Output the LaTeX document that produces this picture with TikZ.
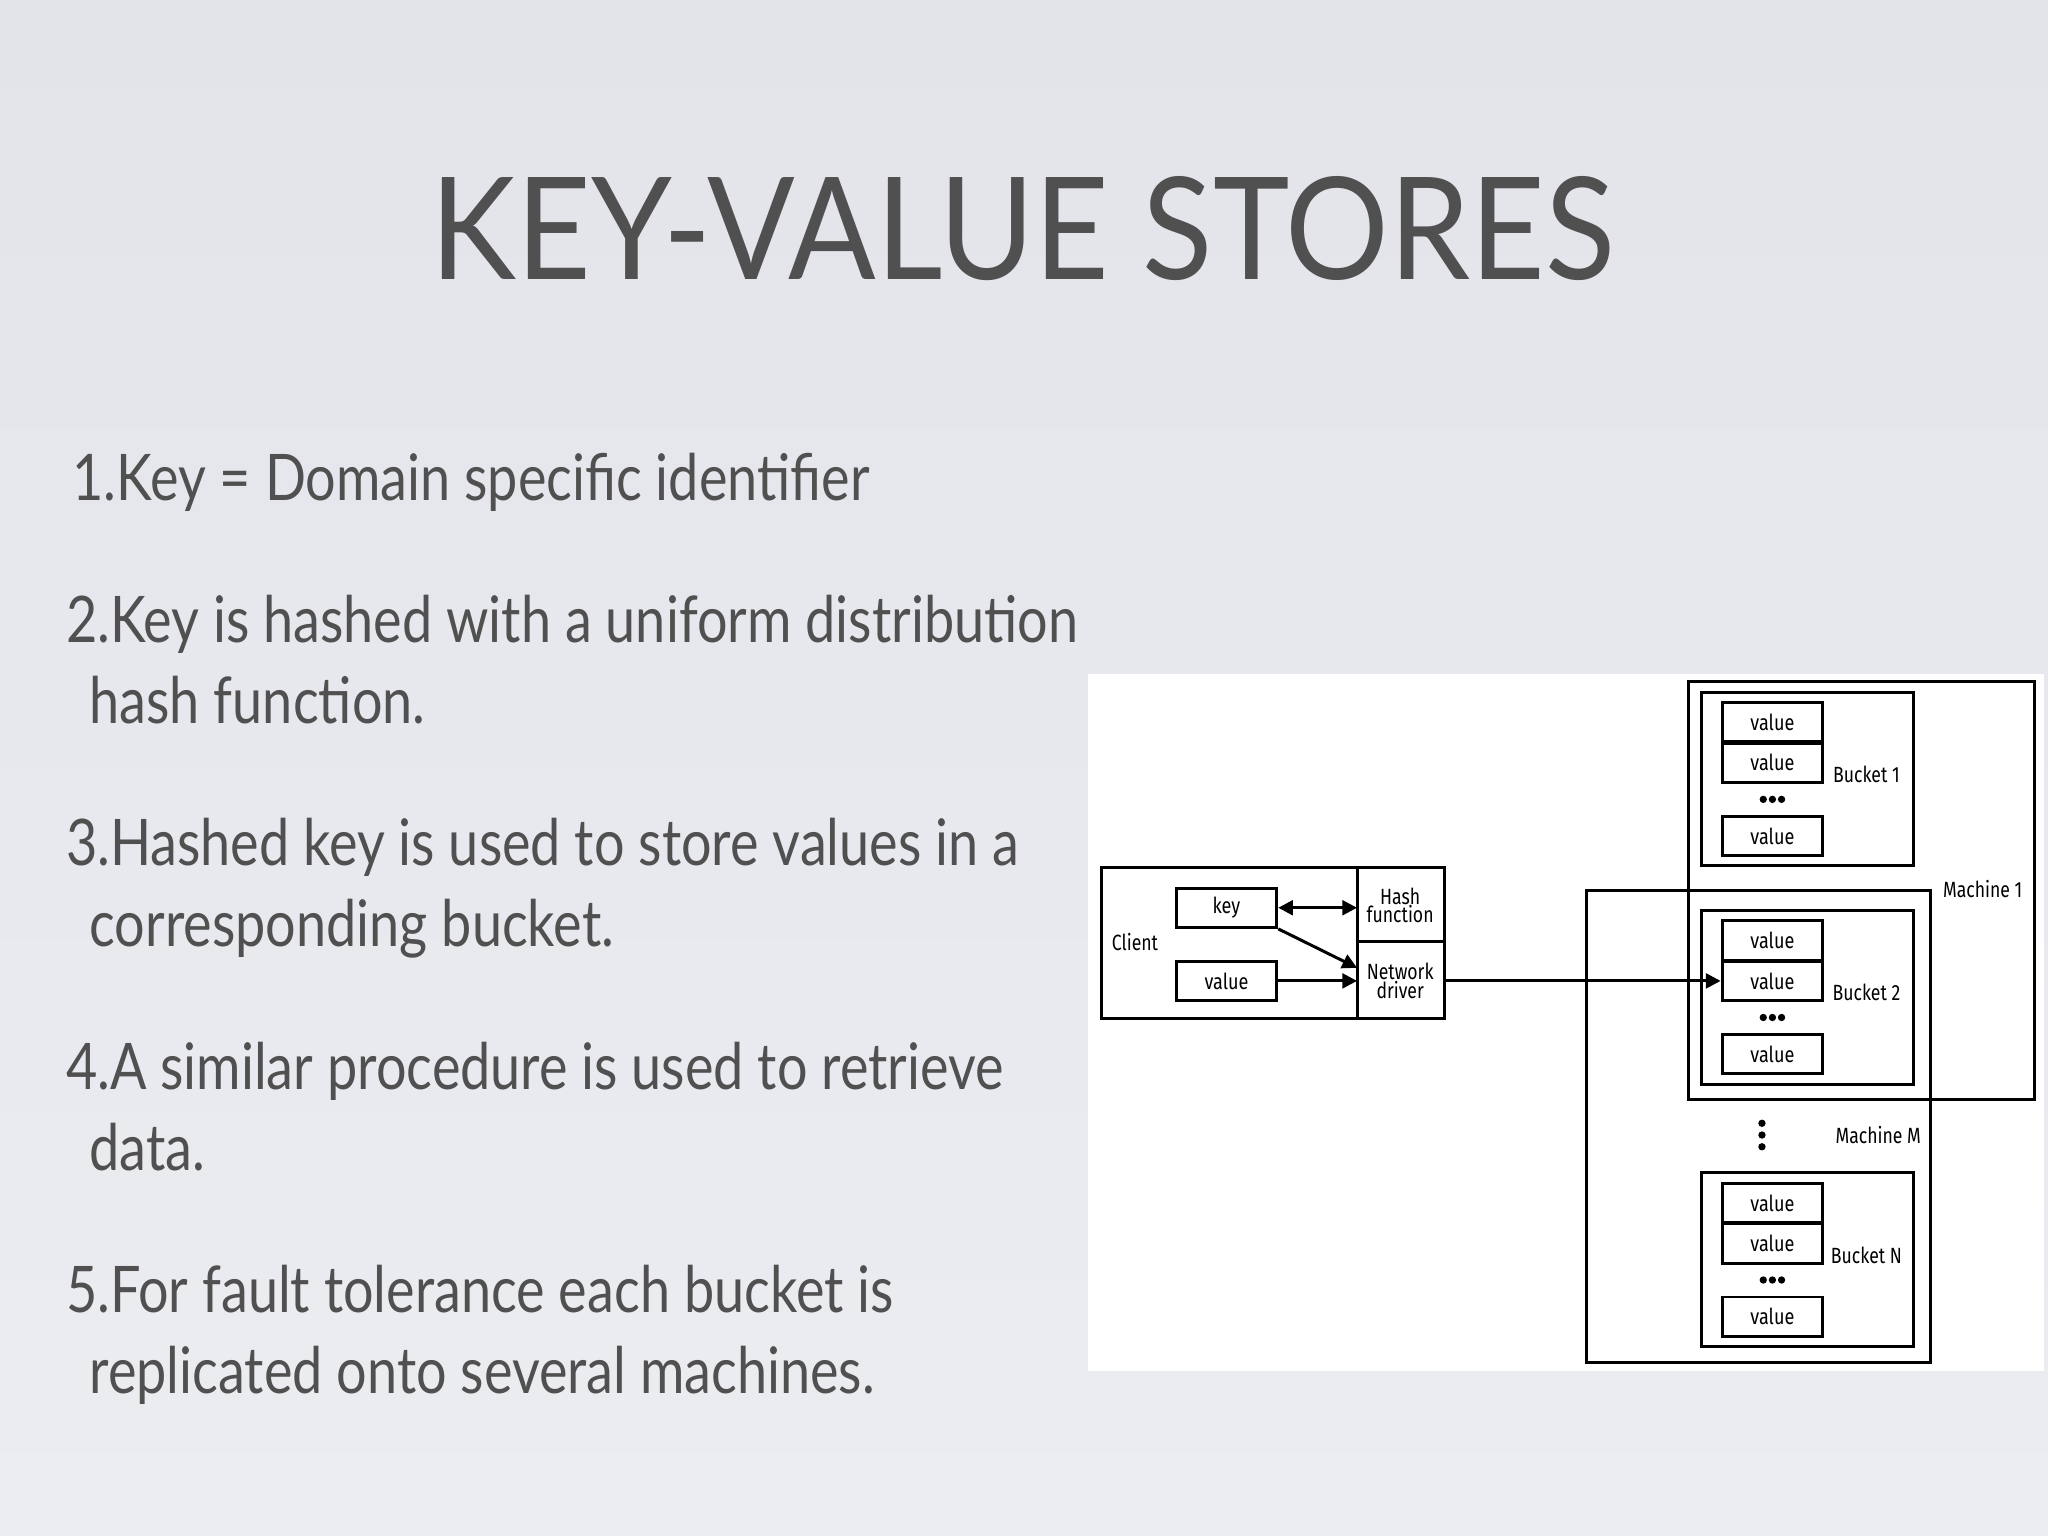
\documentclass[tikz,border=0pt]{standalone}
\usepackage{fontspec}
\setmainfont{Lato}
\newfontfamily\dgfont{Fira Sans}
\usetikzlibrary{arrows.meta}
\definecolor{txt}{HTML}{505050}
\tikzset{
  bx/.style={draw,line width=0.65pt},
  vbox/.style={draw,line width=0.65pt,minimum width=0.77cm,minimum height=0.3cm,inner sep=0pt,font=\dgfont\fontsize{4.8}{5}\selectfont},
  vtxt/.style={inner sep=0pt,xscale=0.82,font=\dgfont\fontsize{4.8}{5}\selectfont},
  lab/.style={font=\dgfont\fontsize{4.8}{5}\selectfont,align=center,inner sep=0pt,xscale=0.8},
  body/.style={anchor=base west,text=txt,font=\fontsize{14}{16}\selectfont,inner sep=0pt,xscale=0.84},
  arr/.style={line width=0.65pt,-{Triangle[length=3.2pt,width=3.2pt]}},
  dot/.style={circle,fill,inner sep=0pt,minimum size=1.6pt}
}
\begin{document}
\begin{tikzpicture}[x=0.1mm,y=-0.1mm]
\shade[top color={rgb,255:red,226;green,228;blue,234},bottom color={rgb,255:red,236;green,237;blue,241}] (0,0) rectangle (1568,1176);
\useasboundingbox (0,0) rectangle (1568,1176);
\node[anchor=base,text=txt,font=\fontsize{31}{34}\selectfont,inner sep=0pt,xscale=0.91] (title) at (783,214) {KEY-VALUE STORES};
\node[body] (l1) at (55,383) {1.Key = Domain specific identifier};
\node[body] (l2) at (50,492) {2.Key is hashed with a uniform distribution};
\node[body] (l2b) at (68,554) {hash function.};
\node[body] (l3) at (50,663) {3.Hashed key is used to store values in a};
\node[body] (l3b) at (68,725) {corresponding bucket.};
\node[body] (l4) at (50,834) {4.A similar procedure is used to retrieve};
\node[body] (l4b) at (68,896) {data.};
\node[body] (l5) at (50,1005) {5.For fault tolerance each bucket is};
\node[body] (l5b) at (68,1067) {replicated onto several machines.};
% diagram panel
\fill[white] (833,516) rectangle (1565,1050);
% client
\draw[bx] (843,664) rectangle (1106,780);
\draw[bx] (1039,664) -- (1039,780);
\draw[bx] (1039,721) -- (1106,721);
\node[lab] (client) at (869,721) {Client};
\node[vbox] (key) at (939,695) {};
\node[vtxt] at (key) {key};
\node[vbox] (val) at (939,751) {};
\node[vtxt] at (val) {value};
\node[lab] (hash) at (1072,693) {Hash\\[-1pt]function};
\node[lab] (net) at (1072,751) {Network\\[-1pt]driver};
\coordinate (hashw) at (1039,695);
\coordinate (netw) at (1039,751);
\coordinate (netw2) at (1039,741);
\coordinate (nete) at (1106,751);
\draw[arr,{Triangle[length=3.2pt,width=3.2pt]}-{Triangle[length=3.2pt,width=3.2pt]}] (key.east) -- (hashw);
\draw[arr] (key.south east) -- (netw2);
\draw[arr] (val.east) -- (netw);
% machines
\draw[bx] (1293,522) rectangle (1558,842);
\draw[bx] (1215,682) rectangle (1478,1043);
\node[lab] (m1) at (1518,681) {Machine 1};
\node[lab] (mm) at (1438,869) {Machine M};
\foreach \n/\y/\lbl in {b1/530/Bucket 1, b2/697/Bucket 2, bn/898/Bucket N}{
  \draw[bx] (1303,\y) rectangle (1465,\y+133);
  \node[vbox] (\n v1) at (1357,\y+23) {};
  \node[vtxt] at (\n v1) {value};
  \node[vbox] (\n v2) at (1357,\y+54) {};
  \node[vtxt] at (\n v2) {value};
  \node[vbox] (\n v3) at (1357,\y+110) {};
  \node[vtxt] at (\n v3) {value};
  \node[lab] (\n l) at (1429,\y+63) {\lbl};
  \foreach \dx in {-7,0,7}{\node[dot] at (1357+\dx,\y+82) {};}
}
\foreach \dy in {-9,0,9}{\node[dot] at (1349,869+\dy) {};}
\draw[arr] (nete) -- (b2v2.west);
\end{tikzpicture}
\end{document}
